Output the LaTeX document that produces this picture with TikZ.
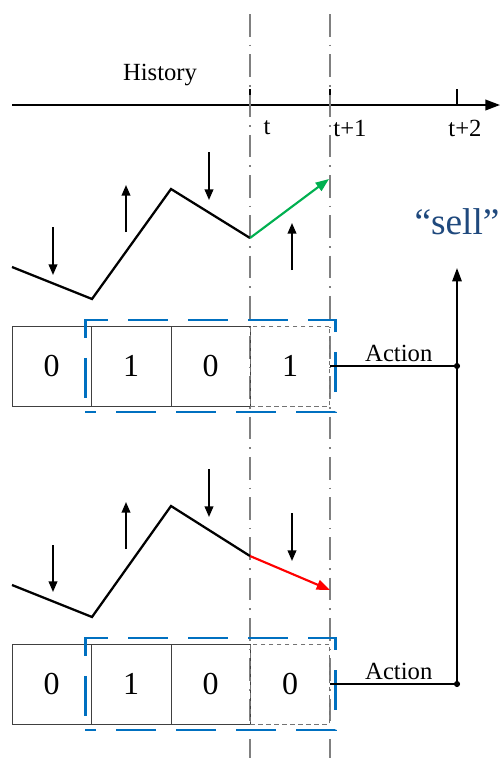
\documentclass[tikz,border=0pt]{standalone}
\usepackage{fontspec}
\setmainfont{Liberation Serif}
\usetikzlibrary{arrows.meta,positioning,fit}
\definecolor{winblue}{RGB}{0,112,192}
\definecolor{sellblue}{RGB}{31,73,125}
\definecolor{upgreen}{RGB}{0,176,80}

\begin{document}
\begin{tikzpicture}[
  x=0.75pt, y=-0.75pt,
  font=\fontsize{18.5}{20}\selectfont,
  cell/.style={draw=black!75, line width=0.6pt, minimum width=59.6pt, minimum height=60pt, inner sep=0pt, outer sep=0pt, font=\fontsize{24}{26}\selectfont},
  nextcell/.style={cell, draw=black!55, dash pattern=on 3.5pt off 2.5pt},
  window/.style={draw=winblue, line width=2.2pt, dash pattern=on 30pt off 15pt, dash phase=22pt, inner sep=4.5pt},
  timeline/.style={draw=gray, line width=1.5pt, dash pattern=on 17pt off 6pt on 1.2pt off 6pt},
  price/.style={line width=1.7pt, line join=miter},
  move/.style={line width=1.3pt, -{Triangle[length=8pt,width=6.5pt]}},
  trend/.style={line width=1.6pt, -{Triangle[length=10pt,width=7.5pt]}}
]
\useasboundingbox (0,0) rectangle (501,758);

% time axis
\draw[line width=1.3pt, -{Triangle[length=11pt,width=8pt]}] (12,105) -- (500,105);
\foreach \x in {250,330,457}
  \draw[line width=1pt] (\x,89) -- (\x,105);
\node (hist) at (160,75) {History};
\node (lt)  at (267,128) {t};
\node (lt1) at (350,128) {t+1};
\node (lt2) at (465,128) {t+2};

% current and next step
\foreach \x in {250,330}
  \draw[timeline] (\x,14) -- (\x,758);

% upper case: price goes up
\draw[price] (12,267) -- (92,299) -- (171,189) -- (250,238);
\draw[trend, upgreen] (250,238) -- (329,179);
\foreach \x/\a/\b in {53/227/275, 126/232/185, 209/152/200, 292/270/223}
  \draw[move] (\x,\a) -- (\x,\b);

\node[cell] (u1) at (51.75,366) {0};
\node[cell, right=0pt of u1] (u2) {1};
\node[cell, right=0pt of u2] (u3) {0};
\node[nextcell, right=0pt of u3] (u4) {1};
\node[window, fit=(u2)(u4)] (uwin) {};

% lower case: price goes down
\draw[price] (12,585) -- (92,617) -- (171,506) -- (250,556);
\draw[trend, red] (250,556) -- (330,590);
\foreach \x/\a/\b in {53/545/592, 126/549/502, 209/469/517, 292/513/561}
  \draw[move] (\x,\a) -- (\x,\b);

\node[cell] (l1) at (51.75,684) {0};
\node[cell, right=0pt of l1] (l2) {1};
\node[cell, right=0pt of l2] (l3) {0};
\node[nextcell, right=0pt of l3] (l4) {0};
\node[window, fit=(l2)(l4)] (lwin) {};

% actions
\coordinate (uj) at (457,366);
\coordinate (lj) at (457,684);
\coordinate (top) at (457,268);
\draw[line width=1.3pt] (u4.east) -- (uj) node[midway, above=-1pt, xshift=4pt] (uact) {Action};
\draw[line width=1.3pt] (l4.east) -- (lj) node[midway, above=-1pt, xshift=4pt] (lact) {Action};
\draw[line width=1.4pt, -{Triangle[length=10pt,width=7pt]}] (lj) -- (top);
\fill (uj) circle (2.3pt);
\fill (lj) circle (2.3pt);
\node[text=sellblue, font=\fontsize{28}{30}\selectfont] (sell) at (457,222) {``sell''};

\end{tikzpicture}
\end{document}
